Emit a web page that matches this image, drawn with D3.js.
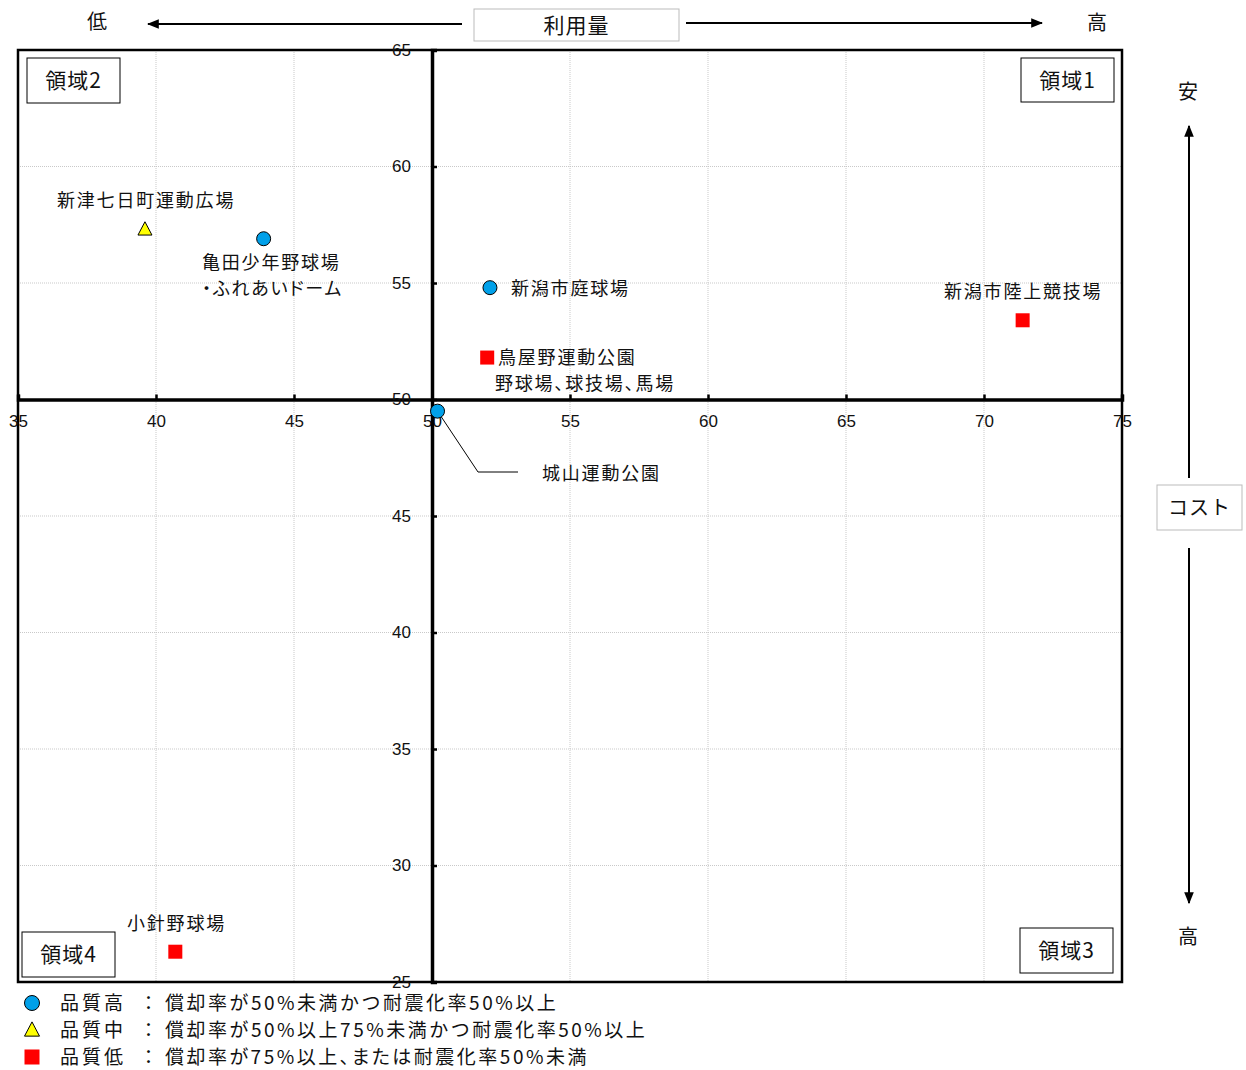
<!DOCTYPE html>
<html>
<head>
<meta charset="utf-8">
<script src="https://cdn.jsdelivr.net/npm/d3@7"></script>
<title>利用量とコスト</title>
<style>
body { margin: 0; background: #fff; }
text { font-family: "Noto Sans CJK JP", "Noto Sans", sans-serif; fill: #111; }
.tick text { font-family: "Liberation Sans", Arial, sans-serif; font-size: 17px; fill: #111; }
</style>
</head>
<body>
<script>

// 施設データ
var names = ["新津七日町運動広場", "亀田少年野球場・ふれあいドーム", "新潟市庭球場", "新潟市陸上競技場",
             "鳥屋野運動公園", "城山運動公園", "小針野球場"];
var usage = [39.6, 43.9, 52.1, 71.4, 52.0, 50.2, 40.7];
var cost  = [57.3, 56.9, 54.8, 53.4, 51.8, 49.5, 26.3];
var quality = ["中", "高", "高", "低", "低", "高", "低"];

var xTicks = [35, 40, 45, 50, 55, 60, 65, 70, 75];
var yTicks = [25, 30, 35, 40, 45, 50, 55, 60, 65];

var legendKeys = ["高", "中", "低"];
var legendText = ["品質高", "品質中", "品質低"];
var legendDesc = ["償却率が50%未満かつ耐震化率50%以上",
                  "償却率が50%以上75%未満かつ耐震化率50%以上",
                  "償却率が75%以上、または耐震化率50%未満"];

var width = 1246, height = 1070;
var pL = 18, pR = 1122, pT = 50, pB = 982;

var svg = d3.select("body").append("svg")
  .attr("width", width).attr("height", height);

var defs = svg.append("defs");
defs.append("marker").attr("id", "arr")
  .attr("viewBox", "0 0 10 10").attr("refX", 9).attr("refY", 5)
  .attr("markerWidth", 6).attr("markerHeight", 6).attr("orient", "auto-start-reverse")
  .append("path").attr("d", "M0,1 L10,5 L0,9 z").attr("fill", "#000");

var x = d3.scaleLinear().domain([35, 75]).range([pL, pR]);
var y = d3.scaleLinear().domain([25, 65]).range([pB, pT]);

// grid
svg.append("g").selectAll("line").data(xTicks).enter().append("line")
  .attr("x1", d => x(d)).attr("x2", d => x(d)).attr("y1", pT).attr("y2", pB)
  .attr("stroke", "#bbb").attr("stroke-width", 0.8).attr("stroke-dasharray", "1,1");
svg.append("g").selectAll("line").data(yTicks).enter().append("line")
  .attr("y1", d => y(d)).attr("y2", d => y(d)).attr("x1", pL).attr("x2", pR)
  .attr("stroke", "#bbb").attr("stroke-width", 0.8).attr("stroke-dasharray", "1,1");

// border
svg.append("rect").attr("x", pL).attr("y", pT)
  .attr("width", pR - pL).attr("height", pB - pT)
  .attr("fill", "none").attr("stroke", "#000").attr("stroke-width", 2.5);

// axes through (50,50)
var xAxis = svg.append("g").attr("transform", "translate(0," + y(50) + ")")
  .call(d3.axisTop(x).tickValues(xTicks).tickSize(5).tickPadding(0));
xAxis.select(".domain").attr("stroke-width", 3.5);
xAxis.selectAll(".tick line").attr("stroke-width", 2.5);
xAxis.selectAll(".tick text").attr("y", 22).attr("dy", "0.35em");

var yAxis = svg.append("g").attr("transform", "translate(" + x(50) + ",0)")
  .call(d3.axisRight(y).tickValues(yTicks).tickSize(5).tickPadding(0));
yAxis.select(".domain").attr("stroke-width", 3.5);
yAxis.selectAll(".tick line").attr("stroke-width", 2.5);
yAxis.selectAll(".tick text").attr("x", -21).attr("text-anchor", "end");

// leader line for 城山運動公園
svg.append("polyline")
  .attr("points", [[x(usage[5]), y(cost[5])], [478, 472], [518, 472]].map(p => p.join(",")).join(" "))
  .attr("fill", "none").attr("stroke", "#000").attr("stroke-width", 1);

// marks
function drawMark(g, q, cx, cy, s) {
  if (q === "高") {
    g.append("circle").attr("cx", cx).attr("cy", cy).attr("r", s)
      .attr("fill", "#00a0e9").attr("stroke", "#000").attr("stroke-width", 1);
  } else if (q === "中") {
    var h = s * 1.9;
    g.append("path").attr("d", "M" + cx + "," + (cy - h / 2 - 1) + " L" + (cx + s) + "," + (cy + h / 2 - 1) + " L" + (cx - s) + "," + (cy + h / 2 - 1) + "Z")
      .attr("fill", "#ffff00").attr("stroke", "#000").attr("stroke-width", 1);
  } else {
    g.append("rect").attr("x", cx - s).attr("y", cy - s).attr("width", s * 2).attr("height", s * 2)
      .attr("fill", "#ff0000");
  }
}
var marks = svg.append("g");
usage.forEach(function(u, i) { drawMark(marks, quality[i], x(u), y(cost[i]), 7); });

// point labels
var lab = [
  [["新津七日町運動広場"], 57, 201],
  [["亀田少年野球場", "・ふれあいドーム"], 202, 263],
  [["新潟市庭球場"], 511, 289],
  [["新潟市陸上競技場"], 944, 292],
  [["鳥屋野運動公園", "野球場、球技場、馬場"], 498, 358],
  [["城山運動公園"], 542, 474],
  [["小針野球場"], 127, 924]
];
lab.forEach(function(l, i) {
  l[0].forEach(function(t, j) {
    var tx = svg.append("text").attr("x", l[1] - (i === 4 && j === 1 ? 3 : 0)).attr("y", l[2] + j * 26)
      .attr("dy", "0.35em").attr("font-size", 18).attr("letter-spacing", 1.8).text(t);
    if (j === 1) tx.style("font-feature-settings", "'palt'");
  });
});

// region boxes
function box(x0, y0, w, h, t, fs, stroke) {
  svg.append("rect").attr("x", x0).attr("y", y0).attr("width", w).attr("height", h)
    .attr("fill", "#fff").attr("stroke", stroke || "#000").attr("stroke-width", 1);
  svg.append("text").attr("x", x0 + w / 2).attr("y", y0 + h / 2).attr("dy", "0.36em")
    .attr("text-anchor", "middle").attr("font-size", fs).attr("letter-spacing", 1).text(t);
}
box(27, 58, 93, 45, "領域2", 21);
box(1021, 58, 93, 44, "領域1", 21);
box(22, 932, 93, 45, "領域4", 21);
box(1020, 928, 93, 45, "領域3", 21);

// top axis title with arrows
box(474, 9, 205, 32, "利用量", 21, "#bbb");
svg.append("line").attr("x1", 462).attr("y1", 24).attr("x2", 148).attr("y2", 24)
  .attr("stroke", "#000").attr("stroke-width", 2).attr("marker-end", "url(#arr)");
svg.append("line").attr("x1", 686).attr("y1", 23).attr("x2", 1042).attr("y2", 23)
  .attr("stroke", "#000").attr("stroke-width", 2).attr("marker-end", "url(#arr)");
svg.append("text").attr("x", 97).attr("y", 22).attr("dy", "0.35em").attr("text-anchor", "middle").attr("font-size", 20).text("低");
svg.append("text").attr("x", 1097).attr("y", 23).attr("dy", "0.35em").attr("text-anchor", "middle").attr("font-size", 20).text("高");

// right axis title with arrows
box(1157, 485, 85, 45, "コスト", 20, "#bbb");
svg.append("line").attr("x1", 1189).attr("y1", 478).attr("x2", 1189).attr("y2", 126)
  .attr("stroke", "#000").attr("stroke-width", 2).attr("marker-end", "url(#arr)");
svg.append("line").attr("x1", 1189).attr("y1", 548).attr("x2", 1189).attr("y2", 903)
  .attr("stroke", "#000").attr("stroke-width", 2).attr("marker-end", "url(#arr)");
svg.append("text").attr("x", 1188).attr("y", 92).attr("dy", "0.35em").attr("text-anchor", "middle").attr("font-size", 20).text("安");
svg.append("text").attr("x", 1188).attr("y", 937).attr("dy", "0.35em").attr("text-anchor", "middle").attr("font-size", 20).text("高");

// legend
var lg = svg.append("g");
legendKeys.forEach(function(k, i) {
  var ly = 1003 + i * 27;
  drawMark(lg, k, 32, ly, 7.5);
  lg.append("text").attr("x", 60).attr("y", ly).attr("dy", "0.35em").attr("font-size", 19).attr("letter-spacing", 3).text(legendText[i]);
  lg.append("text").attr("x", 139).attr("y", ly).attr("dy", "0.35em").attr("font-size", 19).text("：");
  var d = lg.append("text").attr("x", 165).attr("y", ly).attr("dy", "0.35em").attr("font-size", 19).attr("letter-spacing", 2.5).text(legendDesc[i]);
  if (i === 2) d.style("font-feature-settings", "'palt'");
});

</script>
</body>
</html>
